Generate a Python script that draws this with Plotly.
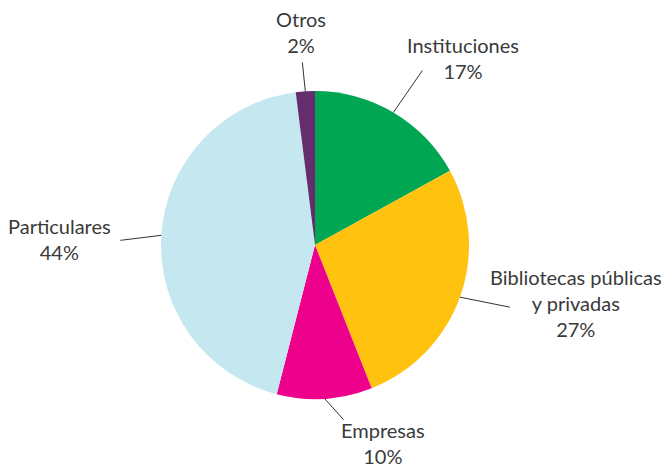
import math
import plotly.graph_objects as go

# Share of users by type (%)
categories = ["Instituciones", "Bibliotecas públicas<br>y privadas", "Empresas", "Particulares", "Otros"]
shares = [17, 27, 10, 44, 2]
colors = ["#00A651", "#FFC20E", "#EC008C", "#C5E8F0", "#662D6E"]

W, H = 664, 469
CX, CY, R = 315, 245, 154  # pie centre and radius in pixels

# label block centres (px) and leader-line tail offsets from the rim (px)
label_pos = [(463, 58), (576, 303), (383, 442.5), (59, 239), (301, 32)]
leader_offset = [(29, -42), (50, 10), (19, 21), (-41, 5), (-3, -29)]

fig = go.Figure(go.Pie(
    labels=categories,
    values=shares,
    sort=False,
    direction="clockwise",
    rotation=0,
    marker=dict(colors=colors, line=dict(width=0)),
    textinfo="none",
    hoverinfo="skip",
    domain=dict(x=[(CX - R) / W, (CX + R) / W],
                y=[(H - CY - R) / H, (H - CY + R) / H]),
    showlegend=False,
))


def px(x, y):
    return x / W, 1 - y / H


total = sum(shares)
cum = 0
shapes, annotations = [], []
for name, val, (lx, ly), (dx, dy) in zip(categories, shares, label_pos, leader_offset):
    mid = (cum + val / 2) / total * 2 * math.pi
    cum += val
    sx = CX + R * math.sin(mid)
    sy = CY - R * math.cos(mid)
    x0, y0 = px(sx, sy)
    x1, y1 = px(sx + dx, sy + dy)
    shapes.append(dict(type="line", xref="paper", yref="paper",
                       x0=x0, y0=y0, x1=x1, y1=y1,
                       line=dict(color="#333333", width=1)))
    tx, ty = px(lx, ly)
    annotations.append(dict(xref="paper", yref="paper", x=tx, y=ty,
                            text=f"{name}<br>{val}%", showarrow=False,
                            xanchor="center", yanchor="middle", align="center",
                            borderpad=0,
                            font=dict(family="Lato, Liberation Sans, sans-serif",
                                      size=20, color="#3a3a3a")))

fig.update_layout(
    width=W, height=H,
    margin=dict(l=0, r=0, t=0, b=0),
    paper_bgcolor="white", plot_bgcolor="white",
    shapes=shapes, annotations=annotations,
)

fig.write_html("out.html")
